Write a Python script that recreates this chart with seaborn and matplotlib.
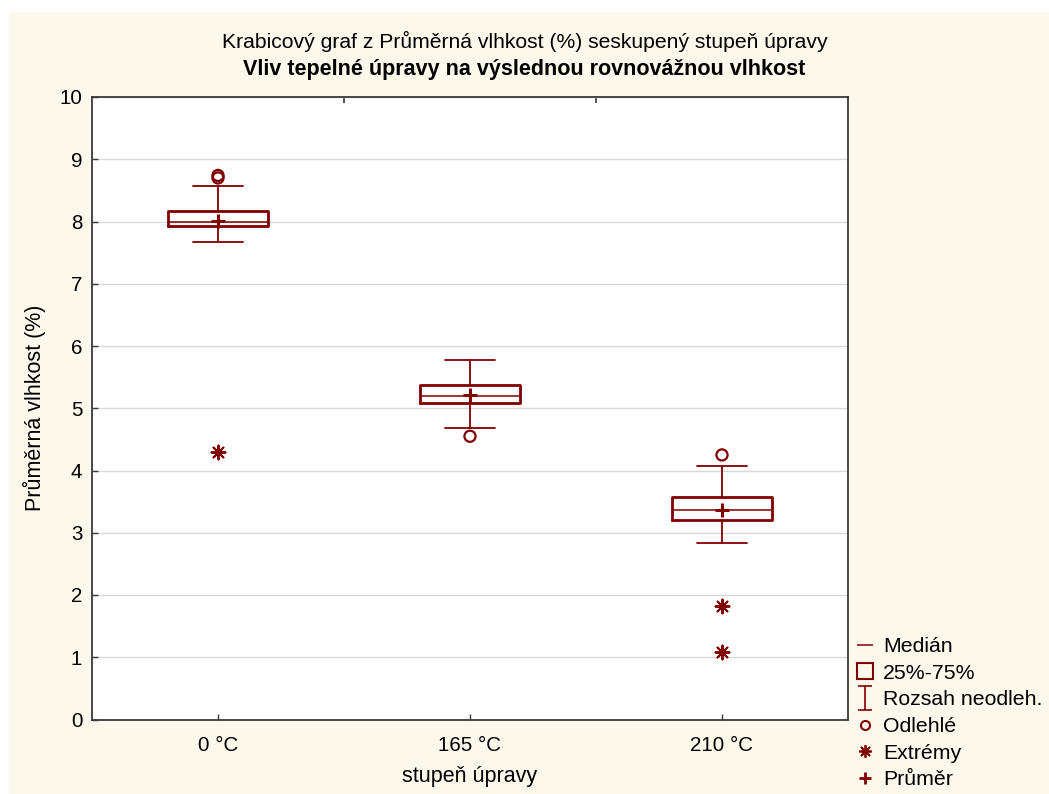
import numpy as np
import pandas as pd
import seaborn as sns
import matplotlib.pyplot as plt
from matplotlib.lines import Line2D
from matplotlib.patches import Rectangle
from matplotlib.path import Path

# ---------------- data ----------------
categories = ["0 °C", "165 °C", "210 °C"]
q1 = [7.92, 5.09, 3.20]
medians = [7.99, 5.20, 3.37]
q3 = [8.17, 5.37, 3.57]
whisker_low = [7.67, 4.68, 2.84]
whisker_high = [8.57, 5.78, 4.08]
means = [8.01, 5.22, 3.36]
outlier_group = ["0 °C", "0 °C", "165 °C", "210 °C"]
outlier_values = [8.70, 8.74, 4.55, 4.25]
extreme_group = ["0 °C", "210 °C", "210 °C"]
extreme_values = [4.29, 1.83, 1.09]
yticks = list(range(0, 11))

title1 = "Krabicový graf z Průměrná vlhkost (%) seskupený stupeň úpravy"
title2 = "Vliv tepelné úpravy na výslednou rovnovážnou vlhkost"
xlabel = "stupeň úpravy"
ylabel = "Průměrná vlhkost (%)"
legend_labels = ["Medián", "25%-75%", "Rozsah neodleh.", "Odlehlé", "Extrémy", "Průměr"]

# ---------------- style ----------------
sns.set_theme(style="white")
plt.rcParams['font.family'] = ['Liberation Sans', 'DejaVu Sans']
plt.rcParams['text.color'] = 'black'
plt.rcParams['axes.labelcolor'] = 'black'
RED = '#800000'
SPINE = '#3a3a3a'

W, H = 1049, 794
fig = plt.figure(figsize=(W / 100, H / 100), dpi=100, facecolor='white')
fig.patches.append(Rectangle((9 / W, 0), 1, 1 - 12 / H, transform=fig.transFigure,
                             facecolor='#FDF8EC', edgecolor='none', zorder=-10))
ax = fig.add_axes([92 / W, 1 - 719.5 / H, (848 - 92) / W, (719.5 - 97) / H])
ax.set_facecolor('white')

# ---------------- points via seaborn ----------------
df_means = pd.DataFrame({"g": categories, "v": means})
df_out = pd.DataFrame({"g": outlier_group, "v": outlier_values})
df_ext = pd.DataFrame({"g": extreme_group, "v": extreme_values})

sns.stripplot(data=df_means, x="g", y="v", order=categories, jitter=False, ax=ax,
              marker='+', size=10, color=RED, edgecolor=RED, linewidth=2.2, zorder=5)
sns.stripplot(data=df_out, x="g", y="v", order=categories, jitter=False, ax=ax,
              marker='o', size=8, color=RED, facecolor='none', edgecolor=RED,
              linewidth=1.6, zorder=5)
sns.stripplot(data=df_ext, x="g", y="v", order=categories, jitter=False, ax=ax,
              marker=(8, 2, 0), size=10, color=RED, edgecolor=RED, linewidth=1.4, zorder=5)

# ---------------- boxes ----------------
stats = []
for i in range(len(categories)):
    stats.append(dict(med=medians[i], q1=q1[i], q3=q3[i],
                      whislo=whisker_low[i], whishi=whisker_high[i],
                      fliers=[], label=categories[i]))
ax.bxp(stats, positions=list(range(len(categories))), widths=0.4, capwidths=0.2,
       showfliers=False, manage_ticks=False, patch_artist=False,
       boxprops=dict(color=RED, linewidth=2),
       medianprops=dict(color=RED, linewidth=1.1),
       whiskerprops=dict(color=RED, linewidth=1.3),
       capprops=dict(color=RED, linewidth=1.3), zorder=4)

# ---------------- axes ----------------
ax.set_xlim(-0.5, len(categories) - 0.5)
ax.set_ylim(0, 10)
ax.set_yticks(yticks)
ax.set_xticks(range(len(categories)))
ax.set_xticklabels(categories)
ax.yaxis.grid(True, color='#d9d9d9', linewidth=1)
ax.xaxis.grid(False)
ax.set_axisbelow(True)
for s in ax.spines.values():
    s.set_visible(True)
    s.set_color(SPINE)
    s.set_linewidth(1.3)
ax.tick_params(axis='both', direction='in', length=4, width=1, color=SPINE,
               labelsize=14.8, labelcolor='black')
ax.tick_params(axis='y', pad=7, left=True)
ax.tick_params(axis='x', pad=12, bottom=True)
ax.set_xlabel(xlabel, fontsize=15.5, labelpad=8, color='black')
ax.set_ylabel(ylabel, fontsize=15.5, labelpad=10, color='black')

sec = ax.secondary_xaxis('top')
sec.set_xticks([0.5, 1.5])
sec.tick_params(direction='in', length=4, color=SPINE, labeltop=False)
sec.spines['top'].set_visible(False)

# ---------------- titles ----------------
fig.text(0.5, 1 - 41 / H, title1, ha='center', va='center', fontsize=15.2, color='black')
fig.text(0.5, 1 - 70 / H, title2, ha='center', va='center', fontsize=15.5,
         fontweight='bold', color='black')

# ---------------- legend ----------------
ibeam_path = Path([(-0.6, 1), (0.6, 1), (0, 1), (0, -1), (-0.6, -1), (0.6, -1)],
                  [Path.MOVETO, Path.LINETO, Path.MOVETO, Path.LINETO, Path.MOVETO, Path.LINETO])
handles = [
    Line2D([], [], ls='none', marker='_', ms=12, mew=1.1, color=RED),
    Line2D([], [], ls='none', marker='s', ms=11.5, mew=1.5, mfc='none', mec=RED),
    Line2D([], [], ls='none', marker=ibeam_path, ms=17, mew=1.2, mfc='none', mec=RED),
    Line2D([], [], ls='none', marker='o', ms=6.5, mew=1.5, mfc='none', mec=RED),
    Line2D([], [], ls='none', marker=(8, 2, 0), ms=9, mew=1.3, color=RED),
    Line2D([], [], ls='none', marker='+', ms=8.5, mew=2, color=RED),
]
leg = fig.legend(handles, legend_labels, loc='upper left', bbox_to_anchor=(854 / W, 1 - 637 / H),
                 frameon=False, fontsize=15.3, handlelength=1.0, handletextpad=0.36,
                 labelspacing=0.36, borderaxespad=0, borderpad=0)
for t in leg.get_texts():
    t.set_color('black')

fig.savefig("out.png", dpi=100, facecolor=fig.get_facecolor())
